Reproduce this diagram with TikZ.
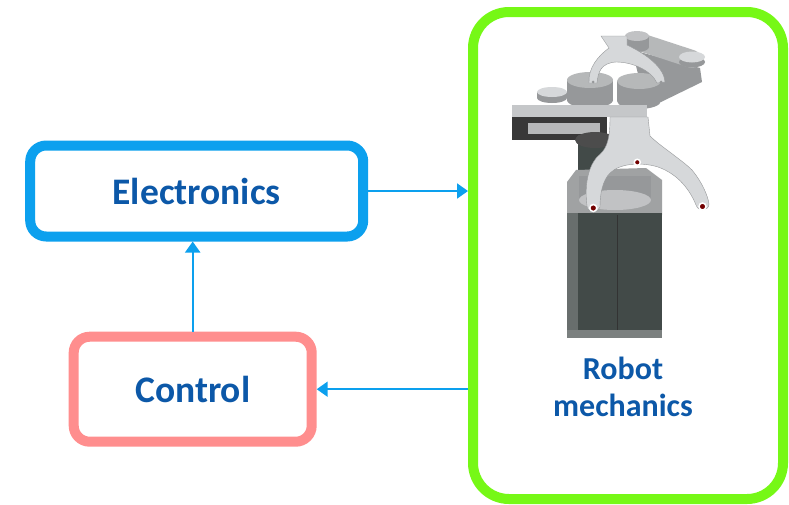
\documentclass[tikz,border=0pt]{standalone}
\usepackage{fontspec}
\setmainfont{Carlito}
\usepackage{tikz}
\usetikzlibrary{arrows.meta}
\definecolor{boxblue}{RGB}{12,160,238}
\definecolor{textblue}{RGB}{12,88,168}
\definecolor{boxpink}{RGB}{255,142,142}
\definecolor{boxgreen}{RGB}{118,248,22}
\definecolor{steel}{RGB}{214,216,218}
\definecolor{steelmid}{RGB}{150,152,154}
\definecolor{steeldark}{RGB}{66,74,72}
\tikzset{
	block/.style={draw, line width=10pt, rounded corners=16pt, fill=white, inner sep=0pt},
	blocktext/.style={font=\fontsize{37.5}{42}\selectfont\bfseries, text=textblue},
	link/.style={draw=boxblue, line width=2pt, -{Triangle[length=11pt,width=15pt]}},
	redpin/.style={fill=red!45!black, draw=white, line width=1.5pt}
}

\begin{document}
\begin{tikzpicture}[x=1pt, y=-1pt]
		%%%%% START %%%%%
		\useasboundingbox (0, 0) rectangle (789, 504);
		
		\node[block, draw=boxblue, minimum width=333, minimum height=91, blocktext] (elec) at (196.7, 191) {Electronics};
		\node[block, draw=boxpink, minimum width=238, minimum height=105, blocktext] (ctrl) at (192.7, 389.2) {Control};
		\node[block, draw=boxgreen, rounded corners=36pt, minimum width=310, minimum height=487] (robot) at (628, 255.5) {};
		
		%%%%% ROBOT %%%%%
		
		% upper arm
		\fill[steelmid] (632, 50) -- (700, 68) -- (702, 82) -- (661, 102) -- (645, 102) -- cycle;
		\draw[line width=18pt, line cap=round, color=steel!85!black] (637, 41) -- (692, 59);
		\fill[steelmid] (692, 62) ellipse (13 and 5.5);
		\fill[steel] (692, 57) ellipse (13 and 5.5);
		\fill[steelmid] (637, 47) ellipse (12 and 5);
		\fill[steelmid] (625, 36) rectangle (649, 47);
		\fill[steel!90!black] (637, 36) ellipse (12 and 5);
		
		% cylinders
		\fill[steelmid] (590, 100) ellipse (23 and 8);
		\fill[steelmid] (567, 80) rectangle (613, 100);
		\fill[steel!85!black] (590, 80) ellipse (23 and 8);
		\fill[steelmid] (639, 101) ellipse (22 and 8);
		\fill[steelmid] (617, 81) rectangle (661, 101);
		\fill[steel!85!black] (639, 81) ellipse (22 and 8);
		
		% upper fork
		\draw[fill=steel, draw=steelmid] (601, 36) -- (627, 36) -- (627, 45) .. controls (648, 55) and (664, 68) .. (665, 82) -- (657, 83) .. controls (651, 70) and (632, 62) .. (616, 62) .. controls (601, 63) and (598, 72) .. (597, 83) -- (589, 83) .. controls (588, 68) and (598, 56) .. (609, 48) -- cycle;
		\fill[steelmid] (593, 82) circle (1.5);
		\fill[steelmid] (661, 82) circle (1.5);
		
		\fill[steelmid] (552, 98) ellipse (15 and 5);
		\fill[steelmid] (537, 92) rectangle (567, 98);
		\fill[steel] (552, 92) ellipse (15 and 5);
		
		% lower arm
		\fill[steel!92!black] (512, 105) rectangle (647, 117);
		\fill[black!78] (512, 117) rectangle (607, 140);
		\fill[steel!85!black] (528, 123) rectangle (600, 134);
		
		\fill[steeldark] (578, 135) rectangle (612, 178);
		\fill[black!70] (595, 140) ellipse (20 and 8);
		
		% column
		\fill[steel!75!black] (567, 182) -- (576, 170) -- (646, 168) -- (662, 180) -- (662, 215) -- (567, 215) -- cycle;
		\fill[steelmid] (579, 176) rectangle (651, 200);
		\fill[steel!90!black] (615, 200) ellipse (36 and 10);
		\fill[steeldark] (567, 213) rectangle (662, 334);
		\fill[steeldark!80!white] (567, 213) rectangle (578, 334);
		\draw[black!80, line width=1pt] (617, 215) -- (617, 334);
		\fill[steeldark!70!white] (567, 330) rectangle (662, 338);
		
		% lower fork
		\draw[fill=steel, draw=steelmid] (610, 117) -- (648, 117) -- (650, 136) .. controls (660, 146) and (682, 160) .. (692, 170) .. controls (702, 182) and (708, 196) .. (709, 204) .. controls (709, 211) and (698, 212) .. (696, 205) .. controls (690, 190) and (678, 174) .. (658, 167) .. controls (642, 162) and (620, 163) .. (610, 173) .. controls (602, 181) and (600, 195) .. (600, 207) .. controls (599, 213) and (587, 213) .. (587, 206) .. controls (585, 190) and (586, 170) .. (597, 157) .. controls (605, 150) and (610, 145) .. (610, 117) -- cycle;
		\draw[redpin] (593.3, 208) circle (3.5);
		\draw[redpin] (702.5, 206.5) circle (3.5);
		\draw[redpin] (637.3, 162.3) circle (3);
		
		%%%%% TEXT %%%%%
		\node[font=\fontsize{32}{37}\selectfont\bfseries, text=textblue, align=center] (mech) at (623, 387) {Robot\\mechanics};
		
		\draw[link] (elec.east) -- (elec.east -| robot.west);
		\draw[link] (ctrl.east -| robot.west) -- (ctrl.east);
		\draw[link] (ctrl.north) -- (ctrl.north |- elec.south);
		
		%%%%% END %%%%%
	\end{tikzpicture}
\end{document}
